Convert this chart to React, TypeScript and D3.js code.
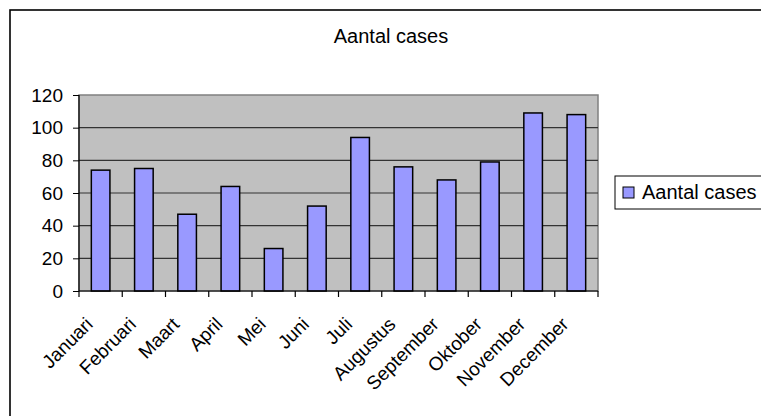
import { useEffect, useRef } from "react";
import { axisLeft, scaleBand, scaleLinear, select } from "d3";

const months = [
  "Januari",
  "Februari",
  "Maart",
  "April",
  "Mei",
  "Juni",
  "Juli",
  "Augustus",
  "September",
  "Oktober",
  "November",
  "December",
];
const cases = [74, 75, 47, 64, 26, 52, 94, 76, 68, 79, 109, 108];
const yTicks = [0, 20, 40, 60, 80, 100, 120];
const seriesName = "Aantal cases";

const W = 761;
const H = 416;
const plot = { left: 79, top: 95, right: 598, bottom: 291 };
const font = "Arial, 'Liberation Sans', sans-serif";

function AxisLeft({ scale }: { scale: any }) {
  const ref = useRef<SVGGElement>(null);
  useEffect(() => {
    if (!ref.current) return;
    const g = select(ref.current);
    g.call(axisLeft(scale).tickValues(yTicks).tickSize(6).tickPadding(10));
    g.select(".domain").remove();
    g.selectAll(".tick line").attr("stroke", "#000");
    g.selectAll(".tick text")
      .attr("fill", "#000")
      .style("font-family", font)
      .style("font-size", "19px");
  }, [scale]);
  return <g ref={ref} transform={`translate(${plot.left},0)`} />;
}

export default function App() {
  const x = scaleBand()
    .domain(months)
    .range([plot.left, plot.right])
    .paddingInner(0.57)
    .paddingOuter(0.285);
  const band = scaleBand().domain(months).range([plot.left, plot.right]);
  const y = scaleLinear().domain([0, 120]).range([plot.bottom, plot.top]);

  return (
    <svg
      width={W}
      height={H}
      style={{ position: "absolute", left: 0, top: 0, background: "#fff" }}
    >
      <rect x={10} y={10} width={800} height={450} fill="#fff" stroke="#000" strokeWidth={1.6} />
      <text x={391} y={43} textAnchor="middle" fontFamily={font} fontSize={20}>
        {seriesName}
      </text>

      <rect
        x={plot.left}
        y={plot.top}
        width={plot.right - plot.left}
        height={plot.bottom - plot.top}
        fill="#c0c0c0"
        stroke="#808080"
        strokeWidth={1.5}
      />
      {yTicks
        .filter((t) => t > 0 && t < 120)
        .map((t) => (
          <line
            key={t}
            x1={plot.left}
            x2={plot.right}
            y1={y(t)}
            y2={y(t)}
            stroke="#333"
            strokeWidth={1.2}
          />
        ))}

      {months.map((m, i) => (
        <rect
          key={m}
          x={x(m)}
          y={y(cases[i])}
          width={x.bandwidth()}
          height={plot.bottom - y(cases[i])}
          fill="#9999ff"
          stroke="#000"
          strokeWidth={1.5}
        />
      ))}

      <line x1={plot.left} x2={plot.left} y1={plot.top} y2={plot.bottom} stroke="#000" strokeWidth={1.2} />
      <line x1={plot.left} x2={plot.right} y1={plot.bottom} y2={plot.bottom} stroke="#000" strokeWidth={1.2} />
      {[...months.map((m) => band(m) as number), plot.right].map((v, i) => (
        <line key={i} x1={v} x2={v} y1={plot.bottom} y2={plot.bottom + 6} stroke="#000" strokeWidth={1.2} />
      ))}
      <AxisLeft scale={y} />

      {months.map((m) => {
        const cx = (band(m) as number) + band.bandwidth() / 2;
        return (
          <text
            key={m}
            transform={`translate(${cx - 16},${plot.bottom + 25}) rotate(-45)`}
            textAnchor="end"
            dy="0.7em"
            fontFamily={font}
            fontSize={19}
          >
            {m}
          </text>
        );
      })}

      <rect x={615} y={176} width={160} height={33} fill="#fff" stroke="#000" strokeWidth={1} />
      <rect x={623} y={187} width={11} height={11} fill="#9999ff" stroke="#000" strokeWidth={1} />
      <text x={642} y={199} fontFamily={font} fontSize={20}>
        {seriesName}
      </text>
    </svg>
  );
}
